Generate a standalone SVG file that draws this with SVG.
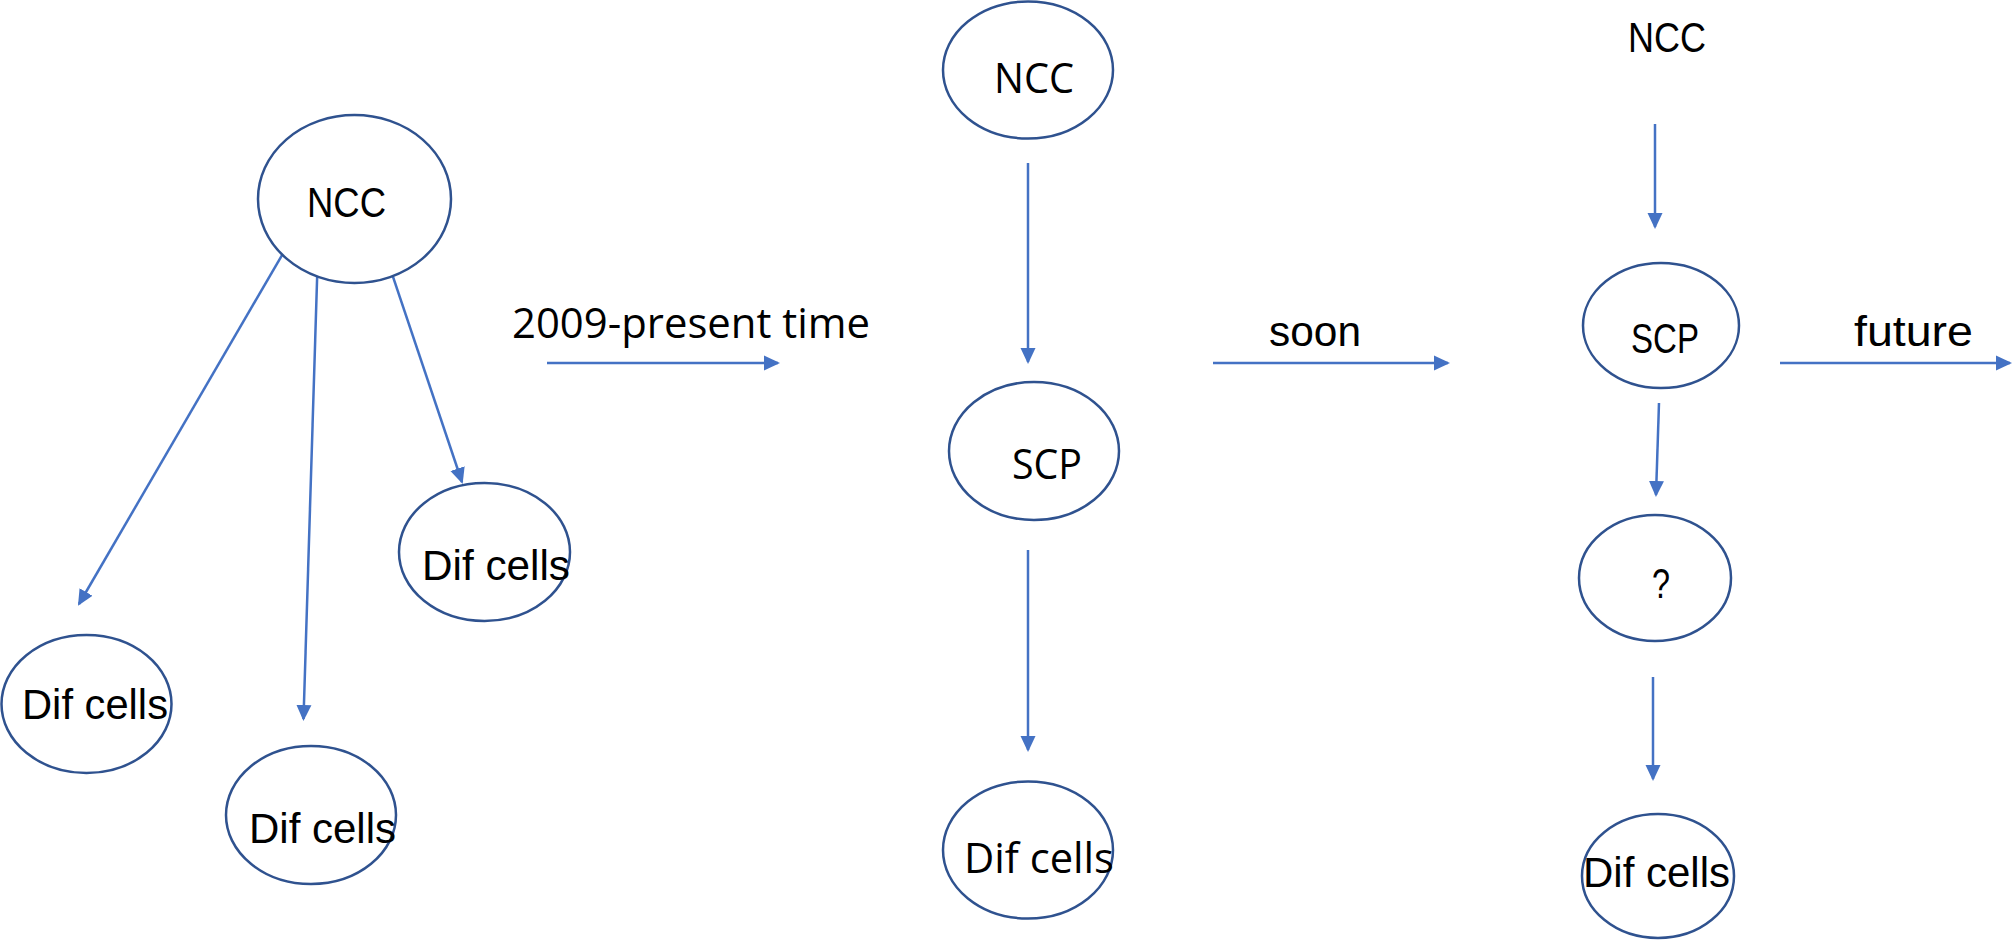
<svg xmlns="http://www.w3.org/2000/svg" width="2012" height="940" viewBox="0 0 2012 940">
<defs>
<style>
.node ellipse{fill:#FFFFFF;stroke:#2F528F;stroke-width:2.5}
.cal{font-family:"Liberation Sans",Arial,sans-serif;font-size:42px;fill:#000000}
.seg{font-family:"Open Sans","Liberation Sans",sans-serif;font-size:42px;fill:#000000}
.conn line{stroke:#4472C4;stroke-width:2.5;fill:none;marker-end:url(#ah)}
</style>
<marker id="ah" markerUnits="userSpaceOnUse" markerWidth="16" markerHeight="16" viewBox="0 0 16 16" refX="14" refY="8" orient="auto">
<path d="M0,0.5 L16,8 L0,15.5 Z" fill="#4472C4"/>
</marker>
</defs>
<rect width="2012" height="940" fill="#FFFFFF"/>

<g id="connectors" class="conn">
<line x1="292" y1="238" x2="79" y2="604"/>
<line x1="318" y1="249" x2="303.5" y2="719"/>
<line x1="385" y1="253" x2="462" y2="482"/>
<line x1="547" y1="363" x2="778" y2="363"/>
<line x1="1028" y1="163" x2="1028" y2="362"/>
<line x1="1028" y1="550" x2="1028" y2="750"/>
<line x1="1213" y1="363" x2="1448" y2="363"/>
<line x1="1655" y1="124" x2="1655" y2="227"/>
<line x1="1659" y1="403" x2="1656" y2="495"/>
<line x1="1653" y1="677" x2="1653" y2="779"/>
<line x1="1780" y1="363" x2="2010" y2="363"/>
</g>

<g id="n-ncc1" class="node">
<ellipse cx="354.5" cy="199" rx="96.5" ry="84"/>
<text class="cal" x="307" y="217" textLength="79" lengthAdjust="spacingAndGlyphs">NCC</text>
</g>
<g id="n-dif1a" class="node">
<ellipse cx="484.5" cy="552" rx="85.5" ry="69"/>
<text class="cal" x="422" y="580" textLength="148" lengthAdjust="spacingAndGlyphs">Dif cells</text>
</g>
<g id="n-dif1b" class="node">
<ellipse cx="86.5" cy="704" rx="85" ry="69"/>
<text class="cal" x="22" y="719" textLength="146" lengthAdjust="spacingAndGlyphs">Dif cells</text>
</g>
<g id="n-dif1c" class="node">
<ellipse cx="311" cy="815" rx="85" ry="69"/>
<text class="cal" x="249" y="843" textLength="147" lengthAdjust="spacingAndGlyphs">Dif cells</text>
</g>

<g id="lbl-2009">
<text class="seg" x="512" y="338" textLength="358" lengthAdjust="spacingAndGlyphs">2009-present time</text>
</g>

<g id="n-ncc2" class="node">
<ellipse cx="1028" cy="70" rx="85" ry="68.5"/>
<text class="seg" x="994" y="93" textLength="80" lengthAdjust="spacingAndGlyphs">NCC</text>
</g>
<g id="n-scp2" class="node">
<ellipse cx="1034" cy="451" rx="85" ry="69"/>
<text class="seg" x="1012" y="479" textLength="70" lengthAdjust="spacingAndGlyphs">SCP</text>
</g>
<g id="n-dif2" class="node">
<ellipse cx="1028" cy="850" rx="85" ry="68.5"/>
<text class="seg" x="964" y="873" textLength="150" lengthAdjust="spacingAndGlyphs">Dif cells</text>
</g>

<g id="lbl-soon">
<text class="cal" x="1269" y="346" textLength="92" lengthAdjust="spacingAndGlyphs">soon</text>
</g>

<g id="n-ncc3">
<text class="cal" x="1628" y="52" textLength="78" lengthAdjust="spacingAndGlyphs">NCC</text>
</g>
<g id="n-scp3" class="node">
<ellipse cx="1661" cy="325.5" rx="78" ry="62.5"/>
<text class="cal" x="1631" y="353" textLength="68" lengthAdjust="spacingAndGlyphs">SCP</text>
</g>
<g id="lbl-future">
<text class="cal" x="1854" y="346" textLength="119" lengthAdjust="spacingAndGlyphs">future</text>
</g>
<g id="n-q3" class="node">
<ellipse cx="1655" cy="578" rx="76" ry="63"/>
<text class="cal" x="1652" y="598" font-size="44" textLength="18" lengthAdjust="spacingAndGlyphs">?</text>
</g>
<g id="n-dif3" class="node">
<ellipse cx="1658" cy="876" rx="76" ry="62"/>
<text class="cal" x="1583" y="887" textLength="147" lengthAdjust="spacingAndGlyphs">Dif cells</text>
</g>
</svg>
